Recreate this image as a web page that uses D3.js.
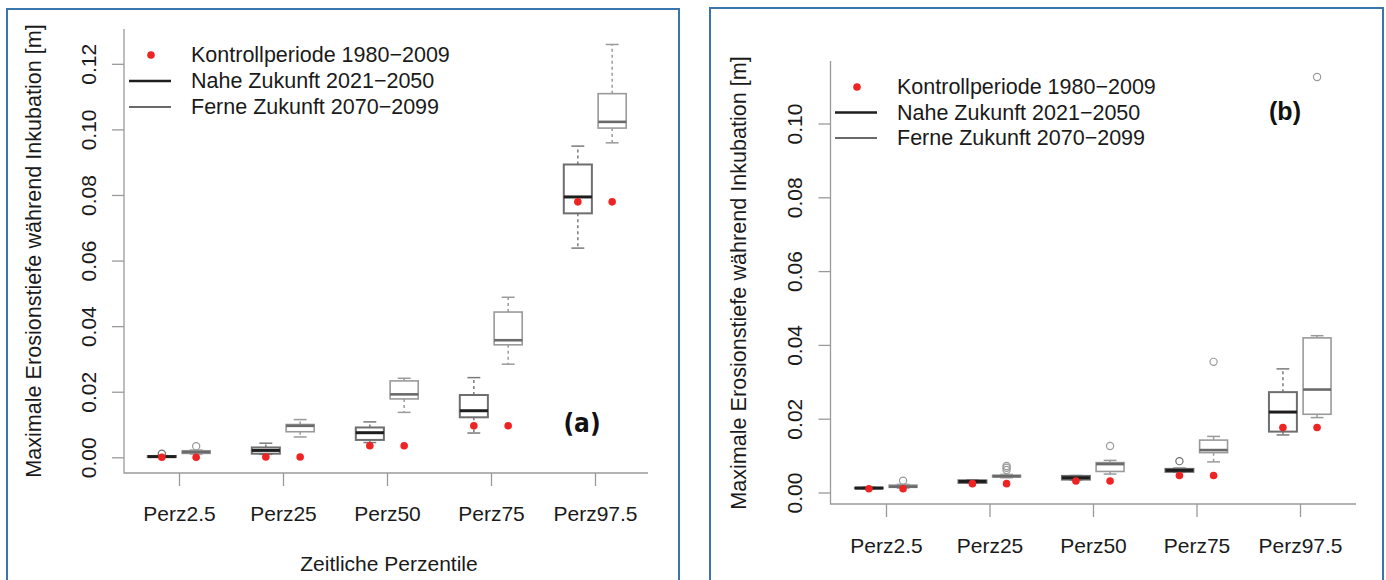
<!DOCTYPE html>
<html><head><meta charset="utf-8">
<script src="https://cdn.jsdelivr.net/npm/d3@7"></script>
<style>
html,body{margin:0;padding:0;background:#fff;}
svg{display:block;font-family:"Liberation Sans",Arial,sans-serif;}
</style></head>
<body><svg id="c" width="1386" height="580"></svg>
<script>
// ---------- DATA ----------
const categories = ["Perz2.5","Perz25","Perz50","Perz75","Perz97.5"];
const legendLabels = ["Kontrollperiode 1980\u22122009","Nahe Zukunft 2021\u22122050","Ferne Zukunft 2070\u22122099"];
const yTitle = "Maximale Erosionstiefe w\u00e4hrend Inkubation [m]";
const xTitle = "Zeitliche Perzentile";

// panel (a): [lowWhisker, q1, median, q3, highWhisker]
const aNahe = [
  [0.0001,0.0001,0.0002,0.0004,0.0005],
  [0.0009,0.0011,0.0021,0.0030,0.0043],
  [0.0045,0.0053,0.0075,0.0091,0.0108],
  [0.0074,0.0122,0.0142,0.0190,0.0243],
  [0.0638,0.0744,0.0794,0.0893,0.0949]
];
const aNaheOut = [[0.0011],[],[],[],[]];
const aFerne = [
  [0.0010,0.0012,0.0016,0.0020,0.0022],
  [0.0062,0.0078,0.0096,0.0100,0.0115],
  [0.0137,0.0178,0.0192,0.0233,0.0241],
  [0.0284,0.0343,0.0357,0.0443,0.0488],
  [0.0959,0.1004,0.1023,0.1109,0.1259]
];
const aFerneOut = [[0.0034],[],[],[],[]];
const aControl = [0.0000,0.0001,0.0035,0.0096,0.0779];
const aTicks = [0.00,0.02,0.04,0.06,0.08,0.10,0.12];

// panel (b)
const bNahe = [
  [0.0010,0.0011,0.0012,0.0013,0.0014],
  [0.0025,0.0026,0.0030,0.0033,0.0034],
  [0.0034,0.0035,0.0040,0.0045,0.0046],
  [0.0055,0.0056,0.0060,0.0064,0.0066],
  [0.0156,0.0165,0.0218,0.0272,0.0335]
];
const bNaheOut = [[],[],[],[0.0085],[]];
const bFerne = [
  [0.0012,0.0014,0.0016,0.0020,0.0022],
  [0.0040,0.0042,0.0044,0.0047,0.0049],
  [0.0050,0.0057,0.0077,0.0081,0.0087],
  [0.0083,0.0108,0.0115,0.0142,0.0152],
  [0.0203,0.0212,0.0279,0.0419,0.0425]
];
const bFerneOut = [[0.0032],[0.0061,0.0067,0.0072],[0.0126],[0.0354],[0.1126]];
const bControl = [0.0010,0.0024,0.0031,0.0046,0.0176];
const bTicks = [0.00,0.02,0.04,0.06,0.08,0.10];

// ---------- DRAW ----------
const svg = d3.select("#c");
const textCol = "#1a1a1a";

function panel(cfg){
  const g = svg.append("g");
  // frame
  g.append("rect").attr("x",cfg.frame[0]).attr("y",cfg.frame[1])
    .attr("width",cfg.frame[2]-cfg.frame[0]).attr("height",700)
    .attr("fill","none").attr("stroke","#3a76ad").attr("stroke-width",2);

  const x = d3.scaleLinear().domain([1,5]).range(cfg.xr);
  const y = d3.scaleLinear().domain([0,cfg.ymax]).range(cfg.yr);
  const off = 0.165, hw = 0.135, cap = 0.062;

  // axis lines (L-shaped box)
  g.append("path").attr("d",`M${cfg.axX},${cfg.spineTop}V${cfg.axY}H${cfg.axRight}`)
    .attr("fill","none").attr("stroke","#9a9a9a").attr("stroke-width",1.3);

  // y axis ticks + labels
  const ya = g.append("g").attr("transform",`translate(${cfg.axX},0)`)
    .call(d3.axisLeft(y).tickValues(cfg.ticks).tickFormat(d3.format(".2f")).tickSize(12).tickPadding(0));
  ya.select(".domain").remove();
  ya.selectAll(".tick line").attr("stroke","#9a9a9a").attr("stroke-width",1.3);
  ya.selectAll(".tick text").attr("x",0).attr("y",0).attr("dy",null)
    .attr("text-anchor","middle").attr("dominant-baseline","central")
    .attr("font-size",21).attr("fill",textCol)
    .attr("font-family",'"Liberation Sans",Arial,sans-serif')
    .attr("transform",`translate(${cfg.yLabX-cfg.axX},0) rotate(-90)`);

  // x axis ticks + labels
  const xa = g.append("g").attr("transform",`translate(0,${cfg.axY})`)
    .call(d3.axisBottom(x).tickValues([1,2,3,4,5]).tickFormat(i=>categories[i-1]).tickSize(13).tickPadding(0));
  xa.select(".domain").remove();
  xa.selectAll(".tick line").attr("stroke","#9a9a9a").attr("stroke-width",1.3);
  xa.selectAll(".tick text").attr("y",cfg.xLabDy).attr("dy",null).attr("dominant-baseline","central")
    .attr("font-size",21).attr("fill",textCol)
    .attr("font-family",'"Liberation Sans",Arial,sans-serif');

  // y title
  g.append("text").attr("transform",`translate(${cfg.yTitleX},${cfg.yTitleY}) rotate(-90)`)
    .attr("text-anchor","middle").attr("dominant-baseline","central")
    .attr("font-size",21.6).attr("fill",textCol).text(yTitle);
  if (cfg.xTitleY) {
    g.append("text").attr("x",cfg.xTitleX).attr("y",cfg.xTitleY)
      .attr("text-anchor","middle").attr("dominant-baseline","central")
      .attr("font-size",21).attr("fill",textCol).text(xTitle);
  }

  // boxes
  function boxes(stats, outs, dx, style){
    stats.forEach((s,i)=>{
      const c = i+1+dx;
      const bg = g.append("g");
      bg.append("line").attr("x1",x(c)).attr("x2",x(c)).attr("y1",y(s[3])).attr("y2",y(s[4]))
        .attr("stroke",style.wh).attr("stroke-width",1.5).attr("stroke-dasharray","3,3");
      bg.append("line").attr("x1",x(c)).attr("x2",x(c)).attr("y1",y(s[1])).attr("y2",y(s[0]))
        .attr("stroke",style.wh).attr("stroke-width",1.5).attr("stroke-dasharray","3,3");
      [s[0],s[4]].forEach(v=>{
        bg.append("line").attr("x1",x(c-cap)).attr("x2",x(c+cap)).attr("y1",y(v)).attr("y2",y(v))
          .attr("stroke",style.wh).attr("stroke-width",1.5);
      });
      bg.append("rect").attr("x",x(c-hw)).attr("y",y(s[3]))
        .attr("width",x(c+hw)-x(c-hw)).attr("height",Math.max(0.5,y(s[1])-y(s[3])))
        .attr("fill","#fff").attr("stroke",style.box).attr("stroke-width",style.bw);
      bg.append("line").attr("x1",x(c-hw)).attr("x2",x(c+hw)).attr("y1",y(s[2])).attr("y2",y(s[2]))
        .attr("stroke",style.med).attr("stroke-width",style.mw);
      outs[i].forEach(v=>{
        bg.append("circle").attr("cx",x(c)).attr("cy",y(v)).attr("r",3.6)
          .attr("fill","none").attr("stroke",style.out).attr("stroke-width",1.2);
      });
    });
  }
  const naheStyle = {box:"#6e6e6e",bw:2,med:"#1e1e1e",mw:3,wh:"#7a7a7a",out:"#6e6e6e"};
  const ferneStyle = {box:"#9a9a9a",bw:1.6,med:"#6a6a6a",mw:2.6,wh:"#9a9a9a",out:"#9a9a9a"};
  boxes(cfg.nahe, cfg.naheOut, -off, naheStyle);
  boxes(cfg.ferne, cfg.ferneOut, off, ferneStyle);

  // control period dots
  [-off, off].forEach(dx=>{
    g.selectAll(null).data(cfg.control).enter().append("circle")
      .attr("cx",(d,i)=>x(i+1+dx)).attr("cy",d=>y(d)).attr("r",3.8).attr("fill","#ee2424");
  });

  // legend
  const L = cfg.legend;
  g.append("circle").attr("cx",L.x+22).attr("cy",L.y).attr("r",3.8).attr("fill","#ee2424");
  g.append("line").attr("x1",L.x).attr("x2",L.x+42).attr("y1",L.y+L.dy).attr("y2",L.y+L.dy)
    .attr("stroke","#1e1e1e").attr("stroke-width",2.4);
  g.append("line").attr("x1",L.x).attr("x2",L.x+42).attr("y1",L.y+2*L.dy).attr("y2",L.y+2*L.dy)
    .attr("stroke","#6a6a6a").attr("stroke-width",2.2);
  legendLabels.forEach((t,i)=>{
    g.append("text").attr("x",L.x+62).attr("y",L.y+i*L.dy).attr("dominant-baseline","central")
      .attr("font-size",21.5).attr("fill",textCol).text(t);
  });

  // panel tag
  g.append("text").attr("x",cfg.tag.x).attr("y",cfg.tag.y).attr("text-anchor","middle")
    .attr("dominant-baseline","central").attr("font-weight","bold").attr("font-size",cfg.tag.size)
    .attr("font-family",cfg.tag.font).attr("fill","#111").text(cfg.tag.text);
}

panel({
  frame:[7,9,679], xr:[179,595], yr:[457.3,457.3-0.12*3279], ymax:0.12,
  axX:124, axY:473, axRight:648, spineTop:29, ticks:aTicks,
  yLabX:88, xLabDy:40, yTitleX:33, yTitleY:251, xTitleX:389, xTitleY:563,
  nahe:aNahe, naheOut:aNaheOut, ferne:aFerne, ferneOut:aFerneOut, control:aControl,
  legend:{x:129,y:55,dy:26},
  tag:{x:582,y:423,text:"(a)",size:26,font:'"Liberation Sans Narrow","DejaVu Sans Condensed",sans-serif'}
});
panel({
  frame:[710,8,1383], xr:[886,1300], yr:[492.5,492.5-0.10*3690], ymax:0.10,
  axX:830.5, axY:504, axRight:1356, spineTop:61, ticks:bTicks,
  yLabX:794, xLabDy:41, yTitleX:738, yTitleY:283, xTitleX:null, xTitleY:null,
  nahe:bNahe, naheOut:bNaheOut, ferne:bFerne, ferneOut:bFerneOut, control:bControl,
  legend:{x:835,y:87,dy:25.5},
  tag:{x:1285,y:111,text:"(b)",size:25,font:'"Liberation Sans",Arial,sans-serif'}
});
</script></body></html>
